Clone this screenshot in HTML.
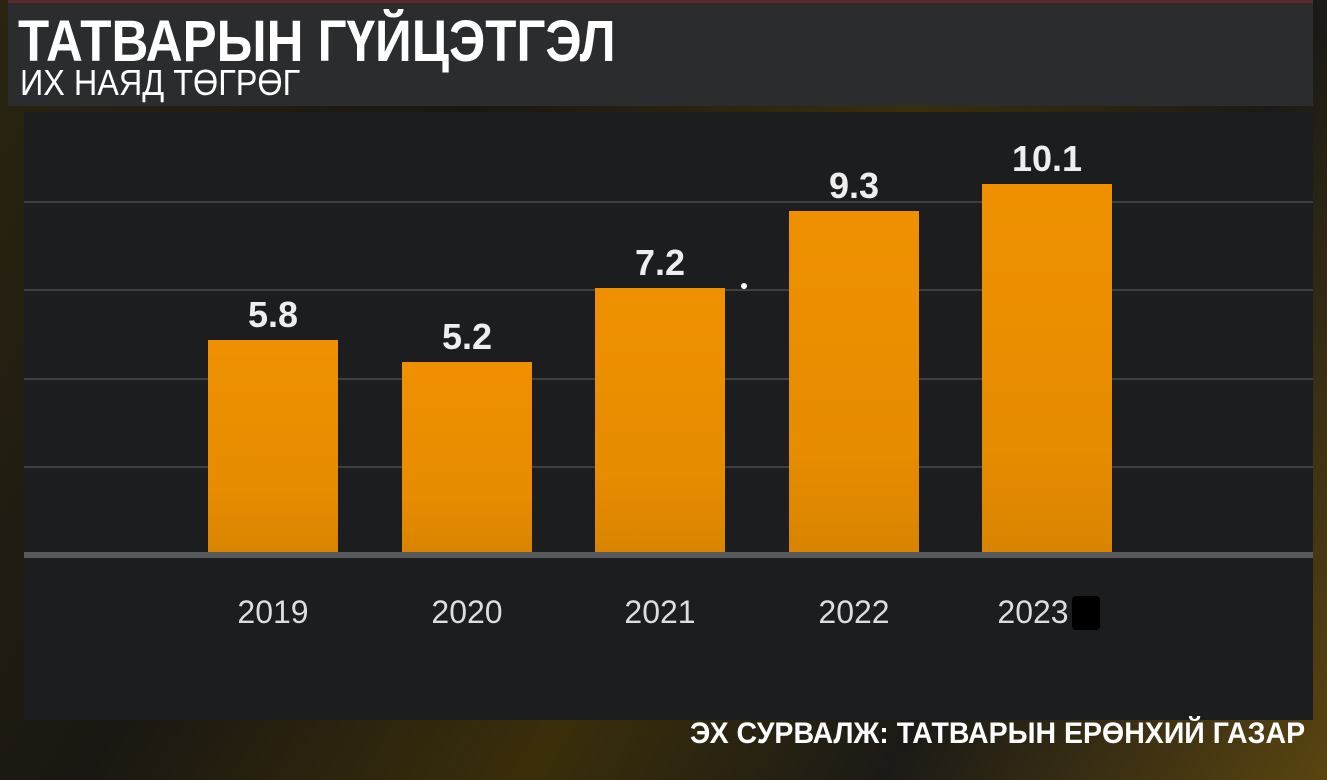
<!DOCTYPE html>
<html><head><meta charset="utf-8"><style>
html,body{margin:0;padding:0;}
body{width:1327px;height:780px;position:relative;overflow:hidden;
background:linear-gradient(120deg,#2a2410 0%,#1a1712 30%,#3a2e0a 55%,#1c1a16 75%,#5a4510 100%);
font-family:"Liberation Sans",sans-serif;}
.hdr{position:absolute;left:8px;top:0;width:1305px;height:106px;background:#2b2c2e;border-top:3px solid #5a2a2a;box-sizing:border-box;}
.panel{position:absolute;left:24px;top:112px;width:1289px;height:608px;background:#1c1d1f;}
.t{position:absolute;color:#fff;white-space:nowrap;transform-origin:0 0;}
.grid{position:absolute;left:24px;width:1289px;height:2px;background:#3e3f41;}
.bar{position:absolute;width:130px;background:linear-gradient(#ee9000,#e88c00 70%,#d88400);}
.val{position:absolute;width:130px;text-align:center;color:#eee;font-weight:bold;font-size:36px;}
.yr{position:absolute;width:130px;text-align:center;color:#ddd;font-size:32px;}
</style></head><body>
<div class="hdr"></div>
<div class="t" style="left:18px;top:8px;font-size:58px;font-weight:bold;transform:scaleX(0.88);">ТАТВАРЫН ГҮЙЦЭТГЭЛ</div>
<div class="t" style="left:20px;top:62px;font-size:36px;transform:scaleX(0.9);">ИХ НАЯД ТӨГРӨГ</div>
<div class="panel"></div>
<div class="grid" style="top:201px"></div>
<div class="grid" style="top:289px"></div>
<div class="grid" style="top:378px"></div>
<div class="grid" style="top:466px"></div>
<div class="bar" style="left:208px;top:340px;height:214px"></div>
<div class="bar" style="left:402px;top:362px;height:192px"></div>
<div class="bar" style="left:595px;top:288px;height:266px"></div>
<div class="bar" style="left:789px;top:211px;height:343px"></div>
<div class="bar" style="left:982px;top:184px;height:370px"></div>
<div class="grid" style="top:552px;height:6px;background:#58595b"></div>
<div class="val" style="left:208px;top:294px">5.8</div>
<div class="val" style="left:402px;top:316px">5.2</div>
<div class="val" style="left:595px;top:242px">7.2</div>
<div class="val" style="left:789px;top:165px">9.3</div>
<div class="val" style="left:982px;top:138px">10.1</div>
<div style="position:absolute;left:741px;top:283px;width:6px;height:6px;border-radius:3px;background:#fff"></div>
<div class="yr" style="left:208px;top:594px">2019</div>
<div class="yr" style="left:402px;top:594px">2020</div>
<div class="yr" style="left:595px;top:594px">2021</div>
<div class="yr" style="left:789px;top:594px">2022</div>
<div class="yr" style="left:968px;top:594px">2023</div>
<div style="position:absolute;left:1072px;top:596px;width:28px;height:34px;background:#000;border-radius:4px"></div>
<div class="t" style="left:690px;top:717px;font-size:30px;font-weight:bold;transform:scaleX(0.95);">ЭХ СУРВАЛЖ: ТАТВАРЫН ЕРӨНХИЙ ГАЗАР</div>
</body></html>
